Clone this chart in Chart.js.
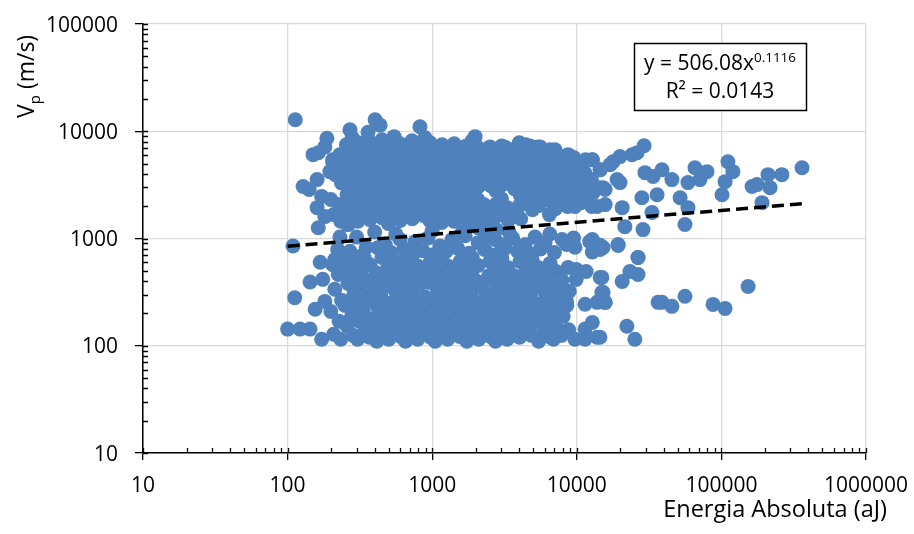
<!DOCTYPE html>
<html>
<head>
<meta charset="utf-8">
<script src="https://cdn.jsdelivr.net/npm/chart.js@4"></script>
<style>
  html, body { margin: 0; padding: 0; background: #fff; }
  #wrap { width: 914px; height: 534px; }
</style>
</head>
<body>
<div id="wrap"><canvas id="grafico" width="914" height="534"></canvas></div>
<script>
// valores: [energia (aJ), Vp (m/s)]
const nubeAlta = [
  [205,5200],[214,3940],[199,2310],[209,1670],
  [230,6050],[224,4580],[236,3300],[228,2070],[233,1450],
  [255,7490],[262,5430],[250,4200],[258,2570],[248,1780],[264,1350],
  [280,8700],[274,6730],[286,5050],[279,3680],[290,2980],[276,2150],[284,1600],
  [308,7800],[315,5900],[301,4380],[311,3240],[304,2470],[318,1860],[306,1450],
  [338,7000],[331,5430],[345,4020],[335,2980],[342,2310],[333,1740],
  [372,7950],[380,6050],[366,4680],[376,3540],[369,2680],[383,1990],[371,1500],
  [410,7300],[402,5650],[418,4300],[407,3180],[415,2400],[404,1790],
  [450,8340],[461,6450],[443,4880],[455,3680],[446,2800],[458,2110],[449,1560],
  [495,7150],[487,5430],[503,4100],[491,3120],[499,2350],[485,1790],[497,1380],
  [545,8900],[556,6730],[538,5050],[549,3860],[541,2920],[553,2230],[543,1670],
  [599,7650],[588,5800],[610,4380],[596,3300],[605,2520],[592,1900],[602,1470],
  [660,6850],[672,5200],[651,3940],[664,2980],[655,2270],[668,1700],
  [725,8150],[714,6180],[738,4680],[721,3540],[731,2680],[717,2030],[728,1530],
  [800,7300],[815,5550],[789,4200],[806,3180],[795,2400],[810,1790],
  [878,6600],[864,4980],[891,3780],[872,2860],[884,2150],[869,1640],
  [966,7800],[982,5900],[951,4480],[972,3400],[958,2570],[976,1940],[961,1470],
  [1060,7000],[1045,5320],[1078,4020],[1052,3050],[1070,2310],[1040,1740],
  [1170,7490],[1188,5650],[1152,4300],[1176,3240],[1160,2470],[1182,1860],[1165,1410],
  [1290,6730],[1272,5050],[1310,3860],[1284,2920],[1300,2230],[1268,1670],
  [1420,7650],[1442,5800],[1400,4380],[1430,3300],[1410,2520],[1436,1900],[1415,1450],
  [1560,6850],[1538,5200],[1584,3940],[1552,2980],[1572,2270],[1545,1700],
  [1720,7300],[1745,5550],[1698,4200],[1730,3180],[1708,2400],[1738,1820],[1712,1350],
  [1890,8150],[1864,6300],[1918,4780],[1880,3610],[1905,2680],[1872,2030],[1898,1530],
  [2080,7000],[2110,5320],[2050,4020],[2092,3050],[2064,2310],[2100,1740],[2070,1260],
  [2290,6450],[2260,4880],[2322,3680],[2275,2070],[2310,1560],[2282,1170],
  [2510,7150],[2545,5430],[2475,4100],[2525,3120],[2490,1860],[2535,1380],
  [2760,6600],[2722,4980],[2800,3780],[2745,2800],[2782,2110],[2735,1600],[2770,1210],
  [3030,7300],[3075,5550],[2990,4200],[3050,3180],[3010,2350],[3060,1790],
  [3330,6050],[3285,4580],[3380,3470],[3300,1940],[3355,1470],
  [3680,6730],[3730,5050],[3630,3860],[3700,2920],[3650,1790],
  [4050,5900],[3995,4480],[4110,3400],[4070,2520],[4020,2030],[4090,1530],
  [4440,7490],[4500,6450],[4380,4880],[4460,3680],[4400,2800],[4480,2110],
  [4900,5650],[4830,4300],[4970,3240],[4870,2470],[4940,1860],
  [5400,7150],[5480,6180],[5330,4680],[5430,3540],[5360,2680],[5460,2030],
  [5940,5430],[6020,4100],[5860,3120],[5980,2350],
  [6530,6730],[6440,5050],[6620,3860],[6500,2920],[6580,2230],[6470,1670],
  [7180,5800],[7280,4380],[7080,3300],[7230,2520],[7120,1900],
  [7900,5200],[7790,3940],[8010,2980],[7850,2270],
  [8700,6050],[8830,4580],[8580,3470],[8760,2620],[8640,1990],
  [9560,5650],[9420,4300],[9700,3240],[9500,2470],
  [10500,4980],[10650,3780],[10350,2860],[10580,2150],
  [11500,5430],[11350,4100],[11680,3120],[11420,2350],
  [12800,5430],[12600,3540],[13000,2680],[12700,1990],
  [14500,4380],[14300,2980]
];

const bordeAlto = [
  [113,12800],[187,8600],[181,7150],[150,6050],[163,6300],[270,10300],
  [403,12800],[436,11400],[360,9800],[823,11000],[892,8700],[1980,8900],
  [3240,7000],[4000,7800],[4750,7300],[5570,7150],[7070,6730],[9400,5650],
  [128,3050],[141,2860],[160,3540],[196,4200],[205,5430],[230,5800],
  [172,2470],[160,1940],[181,1600],[163,1260],[258,1350],
  [9700,5430],[12800,5430],[14500,4380],[12300,3540],[13400,2860],
  [15200,2980],[10500,2620],[9700,1990],[13800,1990]
];

const franjaMedia = [
  [230,1030],[222,791],[300,1030],[350,830],[473,880],[599,980],
  [761,935],[935,1010],[1130,850],[1370,980],[1690,1060],[2080,915],
  [2720,980],[3190,810],[3600,1010],[4390,880],[5140,1030],[6030,915],
  [7900,980],[9720,830],[12300,935],[14500,791],[8500,880],[9500,1010],
  [12800,980],[14500,865],[12800,750],[19300,880],[26500,665],
  [270,760],[330,700],[420,820],[520,740],[640,800],[700,720],[860,770],
  [1000,700],[1250,760],[1500,810],[1800,730],[2300,790],[2600,700],
  [3000,880],[3900,760],[4700,720],[5600,800],[7000,740],
  [400,1150],[560,1100],[1000,1180],[1600,1120],[2400,1050],[3400,1150],[6500,1100]
];

const nubeBaja = [
  [205,570],[212,336],[199,209],[208,128],
  [230,665],[224,462],[236,265],[227,169],[233,115],
  [255,537],[262,381],[249,238],[258,152],
  [280,640],[273,425],[287,302],[277,188],[284,125],
  [308,515],[316,350],[301,238],[312,169],[305,115],
  [338,665],[330,440],[346,290],[334,209],[342,139],
  [372,570],[381,390],[365,265],[376,176],[368,120],
  [410,480],[401,336],[419,228],[406,152],[414,110],
  [450,665],[461,425],[442,290],[455,197],[446,133],
  [495,560],[484,365],[506,248],[490,169],[500,115],
  [545,470],[557,323],[536,219],[550,141],
  [599,610],[587,397],[611,278],[594,184],[605,122],
  [660,515],[673,350],[648,233],[665,159],[654,110],
  [725,665],[711,433],[739,296],[719,200],[732,133],
  [800,550],[816,374],[786,253],[807,172],[794,115],
  [878,462],[895,285],[863,209],[884,141],
  [966,600],[948,390],[984,265],[958,180],[975,120],
  [1060,504],[1080,343],[1042,228],[1068,155],[1050,110],
  [1170,665],[1148,433],[1192,296],[1160,197],[1182,131],
  [1290,550],[1315,374],[1266,248],[1300,169],[1280,115],
  [1420,462],[1394,316],[1448,213],[1432,141],
  [1560,610],[1590,397],[1530,271],[1572,184],[1548,122],
  [1720,515],[1688,350],[1754,233],[1706,159],[1736,110],
  [1890,665],[1928,425],[1854,290],[1906,197],[1872,133],
  [2080,560],[2040,365],[2120,248],[2064,169],[2098,115],
  [2290,397],[2335,310],[2245,209],[2310,141],
  [2510,610],[2460,450],[2560,271],[2490,184],[2532,122],
  [2760,515],[2815,350],[2705,233],[2782,159],[2740,110],
  [3030,650],[2970,416],[3090,290],[3005,197],[3060,131],
  [3330,537],[3395,365],[3265,244],[3350,169],[3300,115],
  [3680,450],[3610,310],[3750,209],[3660,139],
  [4050,610],[4130,390],[3970,265],[4080,180],[4020,120],
  [4440,504],[4350,336],[4530,228],[4410,155],
  [4900,640],[5000,425],[4800,290],[4940,197],[4860,125],
  [5400,537],[5290,357],[5510,244],[5360,165],[5450,110],
  [5940,450],[6060,310],[5820,209],[5990,139],
  [6530,585],[6400,381],[6660,265],[6480,176],[6580,120],
  [7180,493],[7320,336],[7040,219],[7240,148],
  [7900,408],[7750,278],[8050,188],[7820,125],
  [8700,537],[8870,323],[8530,238],[8780,141]
];

const bordeBajo = [
  [109,850],[168,600],[212,638],[143,393],[175,416],[112,280],[155,219],
  [181,259],[100,143],[122,143],[143,143],[172,115],[258,550],[280,416],
  [9900,515],[11600,493],[14500,434],[9900,416],[14900,315],[13800,254],
  [15700,254],[11400,244],[8500,259],[7650,244],[5800,244],[12800,165],
  [11400,143],[9700,115],[11400,115],[13800,120],[6300,143],[6900,115]
];

const dispersos = [
  [29200,7330],[26100,6310],[24100,6040],[19900,5800],[17800,5200],[17000,4880],
  [29600,4110],[38800,4380],[45500,3540],[33700,3780],[65600,4570],[79400,4200],
  [71100,3540],[58700,3320],[111000,5200],[120000,4200],[106000,3390],[101000,2560],
  [163000,3050],[176000,3180],[210000,3940],[262000,3940],[217000,2980],[361000,4570],
  [191000,2160],[19900,3320],[19000,3540],[15700,2860],[15700,2070],[20600,1940],
  [28200,2400],[35900,2560],[51800,2400],[58700,1940],[33100,1750],[21500,1290],
  [28700,1210],[56000,1350],[15200,824],[19300,861],[26500,665],[14900,434],
  [20600,398],[23300,493],[26500,462],[15200,315],[15700,254],[38800,254],
  [45500,233],[56000,289],[87500,243],[106000,223],[153000,357],[22200,152],
  [25200,115],[14450,120],[36500,254]
];

// linea de tendencia potencial del grafico: y = 506.08 x^0.1116
const coefA = 506.08;
const coefB = 0.1116;
const tendenciaX = [100, 360000];

const ticksX = [10, 100, 1000, 10000, 100000, 1000000];
const ticksY = [10, 100, 1000, 10000, 100000];

const azul = '#4f81bd';
const fuente = '"Open Sans"';

const puntos = [...nubeAlta, ...bordeAlto, ...franjaMedia, ...nubeBaja, ...bordeBajo, ...dispersos]
  .map(p => ({x: p[0], y: p[1]}));
const tendencia = tendenciaX.map(x => ({x: x, y: coefA * Math.pow(x, coefB)}));

const extras = {
  id: 'extras',
  afterDraw(chart) {
    const ctx = chart.ctx;
    const sx = chart.scales.x, sy = chart.scales.y;
    const area = chart.chartArea;
    ctx.save();
    // marcas menores y parte interior de las mayores
    ctx.strokeStyle = '#000';
    ctx.lineWidth = 1.3;
    ctx.beginPath();
    for (let d = 10; d <= 1000000; d *= 10) {
      for (let m = 1; m <= 9; m++) {
        const v = d * m;
        if (v > 1000000) break;
        const px = Math.round(sx.getPixelForValue(v)) + 0.5;
        ctx.moveTo(px, area.bottom);
        ctx.lineTo(px, area.bottom - 5);
        if (v <= 100000) {
          const py = Math.round(sy.getPixelForValue(v)) + 0.5;
          ctx.moveTo(area.left, py);
          ctx.lineTo(area.left + 5, py);
        }
      }
    }
    ctx.stroke();

    // etiquetas de los ejes
    ctx.fillStyle = '#000';
    ctx.font = '21px ' + fuente;
    ctx.textBaseline = 'alphabetic';
    ctx.textAlign = 'right';
    ticksY.forEach(v => ctx.fillText(String(v), 118, sy.getPixelForValue(v) + 7.5));
    ctx.textAlign = 'center';
    ticksX.forEach(v => ctx.fillText(String(v), sx.getPixelForValue(v), 492));

    // titulo eje y con subindice
    ctx.translate(34, 118);
    ctx.rotate(-Math.PI / 2);
    ctx.textAlign = 'left';
    ctx.font = '23px ' + fuente;
    ctx.fillText('V', 0, 0);
    let w = ctx.measureText('V').width;
    ctx.font = '15px ' + fuente;
    ctx.fillText('p', w, 6);
    w += ctx.measureText('p').width + 6;
    ctx.font = '23px ' + fuente;
    ctx.fillText('(m/s)', w, 0);
    ctx.setTransform(1, 0, 0, 1, 0, 0);

    // titulo eje x
    ctx.textAlign = 'right';
    ctx.font = '23.5px ' + fuente;
    ctx.fillText('Energia Absoluta (aJ)', 887, 517);

    // cuadro de la ecuacion
    ctx.fillStyle = '#fff';
    ctx.fillRect(634.5, 43.5, 172, 67);
    ctx.strokeStyle = '#000';
    ctx.lineWidth = 1.5;
    ctx.strokeRect(634.5, 43.5, 172, 67);
    ctx.fillStyle = '#000';
    ctx.textAlign = 'left';
    const base = 'y = ' + coefA.toFixed(2) + 'x';
    const expo = String(coefB);
    ctx.font = '21px ' + fuente;
    const wb = ctx.measureText(base).width;
    ctx.font = '13.5px ' + fuente;
    const we = ctx.measureText(expo).width;
    const x0 = 720 - (wb + we) / 2;
    ctx.font = '21px ' + fuente;
    ctx.fillText(base, x0, 70);
    ctx.font = '13.5px ' + fuente;
    ctx.fillText(expo, x0 + wb, 62);
    ctx.font = '21px ' + fuente;
    ctx.textAlign = 'center';
    ctx.fillText('R\u00b2 = 0.0143', 720, 98);
    ctx.restore();
  }
};

new Chart(document.getElementById('grafico'), {
  type: 'scatter',
  data: {
    datasets: [
      {
        type: 'line',
        data: tendencia,
        borderColor: '#000',
        borderWidth: 3.5,
        borderDash: [12, 6],
        pointRadius: 0,
        fill: false,
        order: 0
      },
      {
        data: puntos,
        backgroundColor: azul,
        borderWidth: 0,
        pointRadius: 7.5,
        pointHoverRadius: 7.5,
        order: 1
      }
    ]
  },
  options: {
    responsive: false,
    animation: false,
    layout: {padding: {top: 24, right: 48, left: 0, bottom: 0}},
    plugins: {legend: {display: false}, tooltip: {enabled: false}},
    scales: {
      x: {
        type: 'logarithmic',
        min: 10,
        max: 1000000,
        afterBuildTicks: s => { s.ticks = ticksX.map(v => ({value: v})); },
        afterFit: s => { s.height = 81; },
        ticks: {display: false},
        grid: {color: '#d9d9d9', lineWidth: 1.3, tickColor: '#000', tickLength: 7, tickWidth: 1.3},
        border: {color: '#000', width: 1.5}
      },
      y: {
        type: 'logarithmic',
        min: 10,
        max: 100000,
        afterBuildTicks: s => { s.ticks = ticksY.map(v => ({value: v})); },
        afterFit: s => { s.width = 143; },
        ticks: {display: false},
        grid: {color: '#d9d9d9', lineWidth: 1.3, tickColor: '#000', tickLength: 8, tickWidth: 1.3},
        border: {color: '#000', width: 1.5}
      }
    }
  },
  plugins: [extras]
});
</script>
</body>
</html>
